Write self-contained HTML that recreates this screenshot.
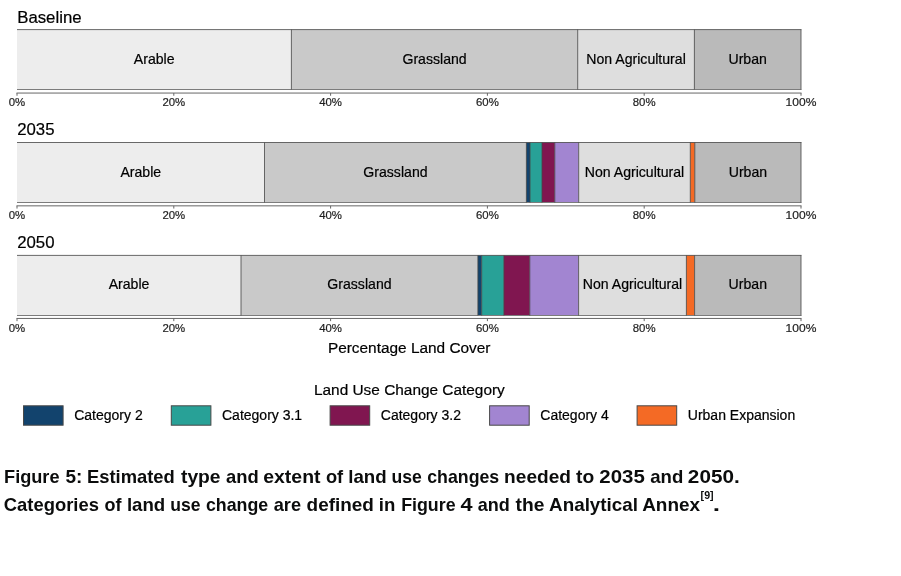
<!DOCTYPE html>
<html lang="en">
<head>
<meta charset="utf-8">
<title>Figure 5</title>
<style>
html,body{margin:0;padding:0;background:#fff;}
body{width:901px;height:576px;overflow:hidden;}
svg{display:block;}
</style>
</head>
<body>
<svg width="901" height="576" viewBox="0 0 901 576" font-family="'Liberation Sans', sans-serif">
<rect x="0" y="0" width="901" height="576" fill="#ffffff"/>
<text x="17.2" y="23" font-size="16.8" fill="#000" stroke="#000" stroke-width="0.2">Baseline</text>
<rect x="17" y="29.6" width="274.40" height="59.90" fill="#ededed"/>
<rect x="291.4" y="29.6" width="286.30" height="59.90" fill="#c9c9c9"/>
<rect x="577.7" y="29.6" width="116.70" height="59.90" fill="#dedede"/>
<rect x="694.4" y="29.6" width="106.60" height="59.90" fill="#bababa"/>
<g stroke="#444444" stroke-width="0.8" fill="none">
<line x1="17" y1="29.6" x2="801.5" y2="29.6"/>
<line x1="17" y1="89.5" x2="801.5" y2="89.5" stroke="#7c7c7c" stroke-width="1"/>
<line x1="291.4" y1="29.6" x2="291.4" y2="89.5"/>
<line x1="577.7" y1="29.6" x2="577.7" y2="89.5"/>
<line x1="694.4" y1="29.6" x2="694.4" y2="89.5"/>
<line x1="801" y1="29.6" x2="801" y2="89.5"/>
</g>
<text x="154.20" y="64" font-size="14.1" text-anchor="middle" fill="#000" stroke="#000" stroke-width="0.2">Arable</text>
<text x="434.55" y="64" font-size="14.1" text-anchor="middle" fill="#000" stroke="#000" stroke-width="0.2">Grassland</text>
<text x="636.05" y="64" font-size="14.1" text-anchor="middle" fill="#000" stroke="#000" stroke-width="0.2">Non Agricultural</text>
<text x="747.70" y="64" font-size="14.1" text-anchor="middle" fill="#000" stroke="#000" stroke-width="0.2">Urban</text>
<g stroke="#666666" stroke-width="1" fill="none">
<line x1="16.5" y1="93.05" x2="801.5" y2="93.05"/>
<line x1="17.00" y1="93.05" x2="17.00" y2="95.75"/>
<line x1="173.80" y1="93.05" x2="173.80" y2="95.75"/>
<line x1="330.60" y1="93.05" x2="330.60" y2="95.75"/>
<line x1="487.40" y1="93.05" x2="487.40" y2="95.75"/>
<line x1="644.20" y1="93.05" x2="644.20" y2="95.75"/>
<line x1="801.00" y1="93.05" x2="801.00" y2="95.75"/>
</g>
<text x="17.00" y="106" font-size="11.4" text-anchor="middle" fill="#1e1e1e" stroke="#1e1e1e" stroke-width="0.2">0%</text>
<text x="173.80" y="106" font-size="11.4" text-anchor="middle" fill="#1e1e1e" stroke="#1e1e1e" stroke-width="0.2">20%</text>
<text x="330.60" y="106" font-size="11.4" text-anchor="middle" fill="#1e1e1e" stroke="#1e1e1e" stroke-width="0.2">40%</text>
<text x="487.40" y="106" font-size="11.4" text-anchor="middle" fill="#1e1e1e" stroke="#1e1e1e" stroke-width="0.2">60%</text>
<text x="644.20" y="106" font-size="11.4" text-anchor="middle" fill="#1e1e1e" stroke="#1e1e1e" stroke-width="0.2">80%</text>
<text x="801.00" y="106" font-size="11.4" text-anchor="middle" fill="#1e1e1e" stroke="#1e1e1e" stroke-width="0.2" textLength="30.8" lengthAdjust="spacingAndGlyphs">100%</text>
<text x="17.2" y="135" font-size="16.8" fill="#000" stroke="#000" stroke-width="0.2">2035</text>
<rect x="17" y="142.5" width="247.50" height="60.00" fill="#ededed"/>
<rect x="264.5" y="142.5" width="261.90" height="60.00" fill="#c9c9c9"/>
<rect x="526.4" y="142.5" width="3.60" height="60.00" fill="#12436d"/>
<rect x="530" y="142.5" width="12.00" height="60.00" fill="#28a197"/>
<rect x="542" y="142.5" width="12.80" height="60.00" fill="#801650"/>
<rect x="554.8" y="142.5" width="23.90" height="60.00" fill="#a285d1"/>
<rect x="578.7" y="142.5" width="111.60" height="60.00" fill="#dedede"/>
<rect x="690.3" y="142.5" width="4.50" height="60.00" fill="#f46a25"/>
<rect x="694.8" y="142.5" width="106.20" height="60.00" fill="#bababa"/>
<g stroke="#444444" stroke-width="0.8" fill="none">
<line x1="17" y1="142.5" x2="801.5" y2="142.5"/>
<line x1="17" y1="202.5" x2="801.5" y2="202.5" stroke="#7c7c7c" stroke-width="1"/>
<line x1="264.5" y1="142.5" x2="264.5" y2="202.5"/>
<line x1="526.4" y1="142.5" x2="526.4" y2="202.5"/>
<line x1="530" y1="142.5" x2="530" y2="202.5"/>
<line x1="542" y1="142.5" x2="542" y2="202.5"/>
<line x1="554.8" y1="142.5" x2="554.8" y2="202.5"/>
<line x1="578.7" y1="142.5" x2="578.7" y2="202.5"/>
<line x1="690.3" y1="142.5" x2="690.3" y2="202.5"/>
<line x1="694.8" y1="142.5" x2="694.8" y2="202.5"/>
<line x1="801" y1="142.5" x2="801" y2="202.5"/>
</g>
<text x="140.75" y="177" font-size="14.1" text-anchor="middle" fill="#000" stroke="#000" stroke-width="0.2">Arable</text>
<text x="395.45" y="177" font-size="14.1" text-anchor="middle" fill="#000" stroke="#000" stroke-width="0.2">Grassland</text>
<text x="634.50" y="177" font-size="14.1" text-anchor="middle" fill="#000" stroke="#000" stroke-width="0.2">Non Agricultural</text>
<text x="747.90" y="177" font-size="14.1" text-anchor="middle" fill="#000" stroke="#000" stroke-width="0.2">Urban</text>
<g stroke="#666666" stroke-width="1" fill="none">
<line x1="16.5" y1="205.85" x2="801.5" y2="205.85"/>
<line x1="17.00" y1="205.85" x2="17.00" y2="208.55"/>
<line x1="173.80" y1="205.85" x2="173.80" y2="208.55"/>
<line x1="330.60" y1="205.85" x2="330.60" y2="208.55"/>
<line x1="487.40" y1="205.85" x2="487.40" y2="208.55"/>
<line x1="644.20" y1="205.85" x2="644.20" y2="208.55"/>
<line x1="801.00" y1="205.85" x2="801.00" y2="208.55"/>
</g>
<text x="17.00" y="219" font-size="11.4" text-anchor="middle" fill="#1e1e1e" stroke="#1e1e1e" stroke-width="0.2">0%</text>
<text x="173.80" y="219" font-size="11.4" text-anchor="middle" fill="#1e1e1e" stroke="#1e1e1e" stroke-width="0.2">20%</text>
<text x="330.60" y="219" font-size="11.4" text-anchor="middle" fill="#1e1e1e" stroke="#1e1e1e" stroke-width="0.2">40%</text>
<text x="487.40" y="219" font-size="11.4" text-anchor="middle" fill="#1e1e1e" stroke="#1e1e1e" stroke-width="0.2">60%</text>
<text x="644.20" y="219" font-size="11.4" text-anchor="middle" fill="#1e1e1e" stroke="#1e1e1e" stroke-width="0.2">80%</text>
<text x="801.00" y="219" font-size="11.4" text-anchor="middle" fill="#1e1e1e" stroke="#1e1e1e" stroke-width="0.2" textLength="30.8" lengthAdjust="spacingAndGlyphs">100%</text>
<text x="17.2" y="248" font-size="16.8" fill="#000" stroke="#000" stroke-width="0.2">2050</text>
<rect x="17" y="255.4" width="224.00" height="60.10" fill="#ededed"/>
<rect x="241.0" y="255.4" width="236.90" height="60.10" fill="#c9c9c9"/>
<rect x="477.9" y="255.4" width="3.80" height="60.10" fill="#12436d"/>
<rect x="481.7" y="255.4" width="22.20" height="60.10" fill="#28a197"/>
<rect x="503.9" y="255.4" width="25.90" height="60.10" fill="#801650"/>
<rect x="529.8" y="255.4" width="48.80" height="60.10" fill="#a285d1"/>
<rect x="578.6" y="255.4" width="107.80" height="60.10" fill="#dedede"/>
<rect x="686.4" y="255.4" width="8.20" height="60.10" fill="#f46a25"/>
<rect x="694.6" y="255.4" width="106.40" height="60.10" fill="#bababa"/>
<g stroke="#444444" stroke-width="0.8" fill="none">
<line x1="17" y1="255.4" x2="801.5" y2="255.4"/>
<line x1="17" y1="315.5" x2="801.5" y2="315.5" stroke="#7c7c7c" stroke-width="1"/>
<line x1="241.0" y1="255.4" x2="241.0" y2="315.5"/>
<line x1="477.9" y1="255.4" x2="477.9" y2="315.5"/>
<line x1="481.7" y1="255.4" x2="481.7" y2="315.5"/>
<line x1="503.9" y1="255.4" x2="503.9" y2="315.5"/>
<line x1="529.8" y1="255.4" x2="529.8" y2="315.5"/>
<line x1="578.6" y1="255.4" x2="578.6" y2="315.5"/>
<line x1="686.4" y1="255.4" x2="686.4" y2="315.5"/>
<line x1="694.6" y1="255.4" x2="694.6" y2="315.5"/>
<line x1="801" y1="255.4" x2="801" y2="315.5"/>
</g>
<text x="129.00" y="289" font-size="14.1" text-anchor="middle" fill="#000" stroke="#000" stroke-width="0.2">Arable</text>
<text x="359.45" y="289" font-size="14.1" text-anchor="middle" fill="#000" stroke="#000" stroke-width="0.2">Grassland</text>
<text x="632.50" y="289" font-size="14.1" text-anchor="middle" fill="#000" stroke="#000" stroke-width="0.2">Non Agricultural</text>
<text x="747.80" y="289" font-size="14.1" text-anchor="middle" fill="#000" stroke="#000" stroke-width="0.2">Urban</text>
<g stroke="#666666" stroke-width="1" fill="none">
<line x1="16.5" y1="318.45" x2="801.5" y2="318.45"/>
<line x1="17.00" y1="318.45" x2="17.00" y2="321.15"/>
<line x1="173.80" y1="318.45" x2="173.80" y2="321.15"/>
<line x1="330.60" y1="318.45" x2="330.60" y2="321.15"/>
<line x1="487.40" y1="318.45" x2="487.40" y2="321.15"/>
<line x1="644.20" y1="318.45" x2="644.20" y2="321.15"/>
<line x1="801.00" y1="318.45" x2="801.00" y2="321.15"/>
</g>
<text x="17.00" y="332" font-size="11.4" text-anchor="middle" fill="#1e1e1e" stroke="#1e1e1e" stroke-width="0.2">0%</text>
<text x="173.80" y="332" font-size="11.4" text-anchor="middle" fill="#1e1e1e" stroke="#1e1e1e" stroke-width="0.2">20%</text>
<text x="330.60" y="332" font-size="11.4" text-anchor="middle" fill="#1e1e1e" stroke="#1e1e1e" stroke-width="0.2">40%</text>
<text x="487.40" y="332" font-size="11.4" text-anchor="middle" fill="#1e1e1e" stroke="#1e1e1e" stroke-width="0.2">60%</text>
<text x="644.20" y="332" font-size="11.4" text-anchor="middle" fill="#1e1e1e" stroke="#1e1e1e" stroke-width="0.2">80%</text>
<text x="801.00" y="332" font-size="11.4" text-anchor="middle" fill="#1e1e1e" stroke="#1e1e1e" stroke-width="0.2" textLength="30.8" lengthAdjust="spacingAndGlyphs">100%</text>
<text x="409.2" y="353" font-size="15.4" text-anchor="middle" fill="#000" stroke="#000" stroke-width="0.2">Percentage Land Cover</text>
<text x="409.4" y="395" font-size="15.4" text-anchor="middle" fill="#000" stroke="#000" stroke-width="0.2">Land Use Change Category</text>
<rect x="23.5" y="405.8" width="39.6" height="19.4" fill="#12436d" stroke="#484848" stroke-width="1"/>
<text x="74.2" y="420" font-size="14" fill="#000" stroke="#000" stroke-width="0.2">Category 2</text>
<rect x="171.3" y="405.8" width="39.6" height="19.4" fill="#28a197" stroke="#484848" stroke-width="1"/>
<text x="222.0" y="420" font-size="14" fill="#000" stroke="#000" stroke-width="0.2">Category 3.1</text>
<rect x="330.1" y="405.8" width="39.6" height="19.4" fill="#801650" stroke="#484848" stroke-width="1"/>
<text x="380.8" y="420" font-size="14" fill="#000" stroke="#000" stroke-width="0.2">Category 3.2</text>
<rect x="489.6" y="405.8" width="39.6" height="19.4" fill="#a285d1" stroke="#484848" stroke-width="1"/>
<text x="540.3" y="420" font-size="14" fill="#000" stroke="#000" stroke-width="0.2">Category 4</text>
<rect x="637.1" y="405.8" width="39.6" height="19.4" fill="#f46a25" stroke="#484848" stroke-width="1"/>
<text x="687.8" y="420" font-size="14" fill="#000" stroke="#000" stroke-width="0.2">Urban Expansion</text>
<g font-weight="bold" fill="#0b0c0c">
<text y="483" font-size="18.6"><tspan x="4.07" textLength="55.47" lengthAdjust="spacingAndGlyphs">Figure</tspan> <tspan x="65.49" textLength="16.89" lengthAdjust="spacingAndGlyphs">5:</tspan> <tspan x="87.01" textLength="87.82" lengthAdjust="spacingAndGlyphs">Estimated</tspan> <tspan x="180.97" textLength="39.62" lengthAdjust="spacingAndGlyphs">type</tspan> <tspan x="226.01" textLength="32.68" lengthAdjust="spacingAndGlyphs">and</tspan> <tspan x="263.21" textLength="57.29" lengthAdjust="spacingAndGlyphs">extent</tspan> <tspan x="325.92" textLength="17.27" lengthAdjust="spacingAndGlyphs">of</tspan> <tspan x="348.19" textLength="38.4" lengthAdjust="spacingAndGlyphs">land</tspan> <tspan x="391.51" textLength="30.33" lengthAdjust="spacingAndGlyphs">use</tspan> <tspan x="427.26" textLength="71.94" lengthAdjust="spacingAndGlyphs">changes</tspan> <tspan x="504.11" textLength="66.85" lengthAdjust="spacingAndGlyphs">needed</tspan> <tspan x="575.98" textLength="18.18" lengthAdjust="spacingAndGlyphs">to</tspan> <tspan x="599.36" textLength="45.47" lengthAdjust="spacingAndGlyphs">2035</tspan> <tspan x="650.26" textLength="33.03" lengthAdjust="spacingAndGlyphs">and</tspan> <tspan x="687.89" textLength="51.76" lengthAdjust="spacingAndGlyphs">2050.</tspan></text>
<text y="511" font-size="18.6"><tspan x="3.81" textLength="95.1" lengthAdjust="spacingAndGlyphs">Categories</tspan> <tspan x="104.46" textLength="17.0" lengthAdjust="spacingAndGlyphs">of</tspan> <tspan x="126.93" textLength="38.34" lengthAdjust="spacingAndGlyphs">land</tspan> <tspan x="170.31" textLength="30.23" lengthAdjust="spacingAndGlyphs">use</tspan> <tspan x="205.96" textLength="62.26" lengthAdjust="spacingAndGlyphs">change</tspan> <tspan x="273.74" textLength="27.29" lengthAdjust="spacingAndGlyphs">are</tspan> <tspan x="306.61" textLength="67.27" lengthAdjust="spacingAndGlyphs">defined</tspan> <tspan x="378.79" textLength="16.52" lengthAdjust="spacingAndGlyphs">in</tspan> <tspan x="401.15" textLength="54.44" lengthAdjust="spacingAndGlyphs">Figure</tspan> <tspan x="460.42" textLength="12.06" lengthAdjust="spacingAndGlyphs">4</tspan> <tspan x="477.77" textLength="32.05" lengthAdjust="spacingAndGlyphs">and</tspan> <tspan x="515.51" textLength="28.85" lengthAdjust="spacingAndGlyphs">the</tspan> <tspan x="549.11" textLength="88.86" lengthAdjust="spacingAndGlyphs">Analytical</tspan> <tspan x="642.15" textLength="57.96" lengthAdjust="spacingAndGlyphs">Annex</tspan></text>
<text y="499" font-size="10"><tspan x="700.59" textLength="13.04" lengthAdjust="spacingAndGlyphs">[9]</tspan></text>
<text y="511" font-size="18.6"><tspan x="712.86" textLength="7.31" lengthAdjust="spacingAndGlyphs">.</tspan></text>
</g>
</svg>
</body>
</html>
